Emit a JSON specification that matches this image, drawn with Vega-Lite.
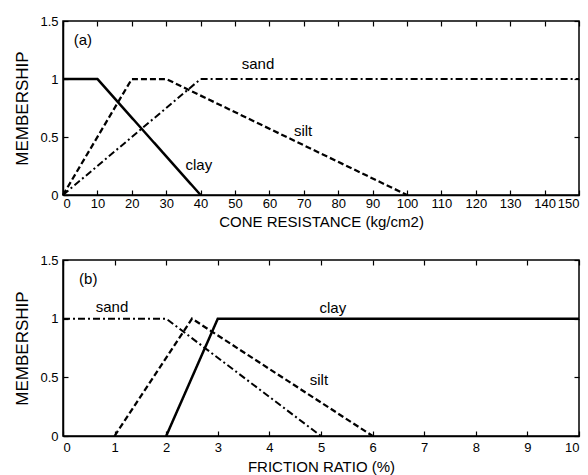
{
  "$schema": "https://vega.github.io/schema/vega-lite/v6.json",
  "padding": {"left": 13, "top": 14, "right": 5, "bottom": 0},
  "bounds": "flush",
  "spacing": 65,
  "config": {
    "font": "Liberation Sans, Arial",
    "view": {"stroke": "black", "strokeWidth": 1.5},
    "axis": {
      "grid": false,
      "domainColor": "black",
      "domainWidth": 1.5,
      "tickColor": "black",
      "tickSize": -5,
      "tickWidth": 1.2,
      "labelColor": "black",
      "labelFontSize": 13,
      "labelFont": "Liberation Sans, Arial",
      "titleColor": "black",
      "titleFontSize": 15,
      "titleFontWeight": "normal",
      "titleFont": "Liberation Sans, Arial",
      "labelPadding": 10
    }
  },
  "datasets": {
    "lines": [
      {"panel": "a", "soil": "clay", "x": 0, "m": 1, "ord": 0},
      {"panel": "a", "soil": "clay", "x": 10, "m": 1, "ord": 1},
      {"panel": "a", "soil": "clay", "x": 40, "m": 0, "ord": 2},
      {"panel": "a", "soil": "silt", "x": 0, "m": 0, "ord": 0},
      {"panel": "a", "soil": "silt", "x": 20, "m": 1, "ord": 1},
      {"panel": "a", "soil": "silt", "x": 30, "m": 1, "ord": 2},
      {"panel": "a", "soil": "silt", "x": 100, "m": 0, "ord": 3},
      {"panel": "a", "soil": "sand", "x": 0, "m": 0, "ord": 0},
      {"panel": "a", "soil": "sand", "x": 40, "m": 1, "ord": 1},
      {"panel": "a", "soil": "sand", "x": 150, "m": 1, "ord": 2},
      {"panel": "b", "soil": "sand", "x": 0, "m": 1, "ord": 0},
      {"panel": "b", "soil": "sand", "x": 2, "m": 1, "ord": 1},
      {"panel": "b", "soil": "sand", "x": 5, "m": 0, "ord": 2},
      {"panel": "b", "soil": "silt", "x": 1, "m": 0, "ord": 0},
      {"panel": "b", "soil": "silt", "x": 2.5, "m": 1, "ord": 1},
      {"panel": "b", "soil": "silt", "x": 6, "m": 0, "ord": 2},
      {"panel": "b", "soil": "clay", "x": 2, "m": 0, "ord": 0},
      {"panel": "b", "soil": "clay", "x": 3, "m": 1, "ord": 1},
      {"panel": "b", "soil": "clay", "x": 10, "m": 1, "ord": 2}
    ],
    "labels": [
      {"panel": "a", "text": "(a)", "x": 5.8, "m": 1.34},
      {"panel": "a", "text": "sand", "x": 56.7, "m": 1.13},
      {"panel": "a", "text": "silt", "x": 69.8, "m": 0.55},
      {"panel": "a", "text": "clay", "x": 39.5, "m": 0.26},
      {"panel": "b", "text": "(b)", "x": 0.49, "m": 1.34},
      {"panel": "b", "text": "sand", "x": 0.95, "m": 1.1},
      {"panel": "b", "text": "clay", "x": 5.23, "m": 1.09},
      {"panel": "b", "text": "silt", "x": 4.96, "m": 0.48}
    ]
  },
  "vconcat": [
    {
      "width": 516,
      "height": 174,
      "layer": [
        {
          "data": {"name": "lines"},
          "transform": [{"filter": "datum.panel == 'a'"}],
          "mark": {"type": "line", "color": "black"},
          "encoding": {
            "x": {"field": "x", "type": "quantitative", "scale": {"domain": [0, 150], "nice": false}, "axis": {"title": "CONE RESISTANCE (kg/cm2)", "values": [0, 10, 20, 30, 40, 50, 60, 70, 80, 90, 100, 110, 120, 130, 140, 150], "labelPadding": 7, "titlePadding": 4}},
            "y": {"field": "m", "type": "quantitative", "scale": {"domain": [0, 1.5], "nice": false}, "axis": {"title": "MEMBERSHIP", "titleFontSize": 17, "values": [0, 0.5, 1, 1.5], "format": "~g", "titlePadding": 8}},
            "detail": {"field": "soil"},
            "order": {"field": "ord"},
            "strokeDash": {"field": "soil", "type": "nominal", "scale": {"domain": ["clay", "silt", "sand"], "range": [[1, 0], [6, 3], [7, 3, 2, 3]]}, "legend": null},
            "strokeWidth": {"field": "soil", "type": "nominal", "scale": {"domain": ["clay", "silt", "sand"], "range": [2.5, 2, 1.5]}, "legend": null}
          }
        },
        {
          "data": {"name": "labels"},
          "transform": [{"filter": "datum.panel == 'a'"}],
          "mark": {"type": "text", "color": "black", "fontSize": 15, "font": "Liberation Sans, Arial"},
          "encoding": {
            "x": {"field": "x", "type": "quantitative", "axis": null},
            "y": {"field": "m", "type": "quantitative", "axis": null},
            "text": {"field": "text"}
          }
        },
        {
          "data": {"name": "lines"},
          "transform": [{"filter": "datum.panel == 'a'"}],
          "mark": {"type": "point", "opacity": 0},
          "encoding": {
            "x": {"field": "x", "type": "quantitative", "axis": {"orient": "top", "labels": false, "title": null, "domain": false, "values": [0, 10, 20, 30, 40, 50, 60, 70, 80, 90, 100, 110, 120, 130, 140, 150]}},
            "y": {"field": "m", "type": "quantitative", "axis": {"orient": "right", "labels": false, "title": null, "domain": false, "values": [0, 0.5, 1, 1.5]}}
          }
        }
      ],
      "resolve": {"axis": {"x": "independent", "y": "independent"}}
    },
    {
      "width": 516,
      "height": 176,
      "layer": [
        {
          "data": {"name": "lines"},
          "transform": [{"filter": "datum.panel == 'b'"}],
          "mark": {"type": "line", "color": "black"},
          "encoding": {
            "x": {"field": "x", "type": "quantitative", "scale": {"domain": [0, 10], "nice": false}, "axis": {"title": "FRICTION RATIO (%)", "values": [0, 1, 2, 3, 4, 5, 6, 7, 8, 9, 10], "labelPadding": 10, "titlePadding": 5}},
            "y": {"field": "m", "type": "quantitative", "scale": {"domain": [0, 1.5], "nice": false}, "axis": {"title": "MEMBERSHIP", "titleFontSize": 17, "values": [0, 0.5, 1, 1.5], "format": "~g", "titlePadding": 8}},
            "detail": {"field": "soil"},
            "order": {"field": "ord"},
            "strokeDash": {"field": "soil", "type": "nominal", "scale": {"domain": ["clay", "silt", "sand"], "range": [[1, 0], [6, 3], [7, 3, 2, 3]]}, "legend": null},
            "strokeWidth": {"field": "soil", "type": "nominal", "scale": {"domain": ["clay", "silt", "sand"], "range": [2.5, 2, 1.5]}, "legend": null}
          }
        },
        {
          "data": {"name": "labels"},
          "transform": [{"filter": "datum.panel == 'b'"}],
          "mark": {"type": "text", "color": "black", "fontSize": 15, "font": "Liberation Sans, Arial"},
          "encoding": {
            "x": {"field": "x", "type": "quantitative", "axis": null},
            "y": {"field": "m", "type": "quantitative", "axis": null},
            "text": {"field": "text"}
          }
        },
        {
          "data": {"name": "lines"},
          "transform": [{"filter": "datum.panel == 'b'"}],
          "mark": {"type": "point", "opacity": 0},
          "encoding": {
            "x": {"field": "x", "type": "quantitative", "axis": {"orient": "top", "labels": false, "title": null, "domain": false, "values": [0, 1, 2, 3, 4, 5, 6, 7, 8, 9, 10]}},
            "y": {"field": "m", "type": "quantitative", "axis": {"orient": "right", "labels": false, "title": null, "domain": false, "values": [0, 0.5, 1, 1.5]}}
          }
        }
      ],
      "resolve": {"axis": {"x": "independent", "y": "independent"}}
    }
  ]
}
